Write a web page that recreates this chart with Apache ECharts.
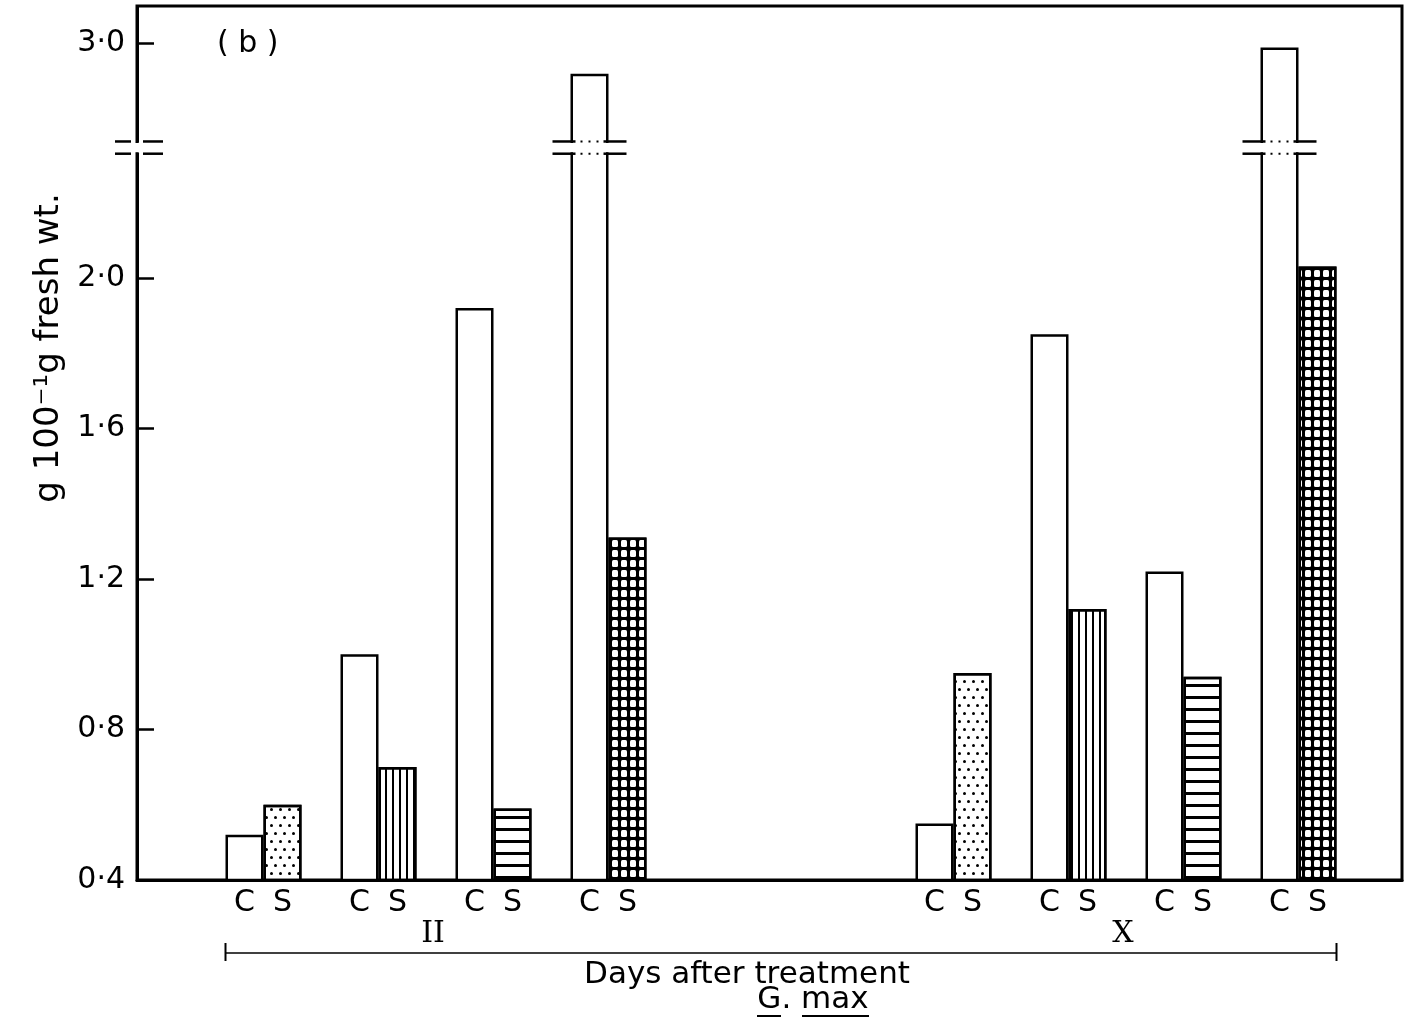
<!DOCTYPE html>
<html>
<head>
<meta charset="utf-8">
<script src="https://cdn.jsdelivr.net/npm/echarts@6.0.0/dist/echarts.min.js"></script>
<style>
  html, body { margin: 0; padding: 0; background: #fff; }
  #chart { width: 1406px; height: 1023px; }
</style>
</head>
<body>
<div id="chart"></div>
<script>
// days after treatment (one group of four C/S pairs each)
const days = ['II', 'X'];
// slot of every C/S pair on the x axis
const slots = [1, 2, 3, 4, 7, 8, 9, 10];
// g 100^-1 g fresh wt.
const control = [0.52, 1.00, 1.92, 2.92, 0.55, 1.85, 1.22, 2.99];
const salt = [0.60, 0.70, 0.59, 1.31, 0.95, 1.12, 0.94, 2.03];
const yTicks = [0.4, 0.8, 1.2, 1.6, 2.0, 3.0];
const yBreak = [2.33, 2.74];

const FONT = 'DejaVu Sans';
const BAR_W = 38;
const X_MIN = -0.1, X_MAX = 10.9;

// hatch used for the S bar of each pair, by position inside the group
const hatch = [
  { symbol: 'circle', symbolSize: 1, color: '#000', dashArrayX: [[2.8, 5.2], [0, 4, 2.8, 1.2]], dashArrayY: [2.8, 4.2] },
  { symbol: 'rect', symbolSize: 1, color: '#000', dashArrayX: [2, 5], dashArrayY: [10, 0] },
  { symbol: 'rect', symbolSize: 1, color: '#000', dashArrayX: [10, 0], dashArrayY: [3, 9] },
  { symbol: 'roundRect', symbolSize: 1, color: '#fff', dashArrayX: [6, 3], dashArrayY: [7, 3] }
];

const chart = echarts.init(document.getElementById('chart'));

// break marks: one on the axis (side 0), one on every bar that crosses the break
const breakItems = [[X_MIN, 0]];
slots.forEach((s, i) => {
  if (control[i] > yBreak[0]) breakItems.push([s, -1]);
  if (salt[i] > yBreak[0]) breakItems.push([s, 1]);
});

function renderBreak(params, api) {
  const x = api.value(0), side = api.value(1);
  const lo = api.coord([x, yBreak[0]]);
  const hi = api.coord([x, yBreak[1]]);
  const solid = { stroke: '#000', lineWidth: 2.5 };
  let l = lo[0], r = lo[0];
  if (side < 0) l = lo[0] - BAR_W;
  if (side > 0) r = lo[0] + BAR_W;
  const kids = [{
    type: 'rect',
    shape: { x: l - 4, y: hi[1] + 1.5, width: r - l + 8, height: lo[1] - hi[1] - 3 },
    style: { fill: '#fff' }
  }];
  [hi[1], lo[1]].forEach(y => {
    if (side === 0) {
      kids.push({ type: 'line', shape: { x1: l - 22, y1: y, x2: l - 6, y2: y }, style: solid });
      kids.push({ type: 'line', shape: { x1: l + 6, y1: y, x2: l + 26, y2: y }, style: solid });
    } else {
      kids.push({ type: 'line', shape: { x1: l - 18, y1: y, x2: l + 5, y2: y }, style: solid });
      kids.push({ type: 'line', shape: { x1: r - 5, y1: y, x2: r + 18, y2: y }, style: solid });
      kids.push({ type: 'line', shape: { x1: l + 10, y1: y, x2: r - 10, y2: y },
        style: { stroke: '#000', lineWidth: 2, lineDash: [2, 6] } });
    }
  });
  return { type: 'group', children: kids };
}

const barLabel = (txt) => ({
  show: true, position: 'bottom', distance: 7, formatter: txt,
  fontSize: 30, color: '#000', fontFamily: FONT
});

const option = {
  animation: false,
  backgroundColor: '#fff',
  title: {
    text: '( b )', left: 212, top: 24,
    textStyle: { fontSize: 30, fontWeight: 'normal', color: '#000', fontFamily: FONT }
  },
  grid: {
    left: 137, right: 4, top: 6, bottom: 143,
    show: true, borderColor: '#000', borderWidth: 3, backgroundColor: 'transparent'
  },
  xAxis: {
    type: 'value', min: X_MIN, max: X_MAX,
    axisLine: { show: true, onZero: false, lineStyle: { color: '#000', width: 3 } },
    axisTick: { show: false },
    axisLabel: { show: false },
    splitLine: { show: false }
  },
  yAxis: {
    type: 'value', min: 0.4, max: 3.1,
    breaks: [{ start: yBreak[0], end: yBreak[1], gap: '1.4%' }],
    breakArea: { show: false, expandOnClick: false },
    axisLine: { show: true, onZero: false, lineStyle: { color: '#000', width: 3 } },
    axisTick: { show: true, inside: true, length: 17, customValues: yTicks,
      lineStyle: { color: '#000', width: 2.5 } },
    axisLabel: { customValues: yTicks, margin: 12, fontSize: 30, color: '#000', fontFamily: FONT,
      formatter: v => v.toFixed(1).replace('.', '·') },
    splitLine: { show: false },
    name: 'g 100⁻¹g fresh wt.',
    nameLocation: 'middle', nameRotate: 90, nameGap: 66,
    nameTextStyle: { fontSize: 34, color: '#000', fontFamily: FONT, padding: [0, 0, 0, 190] }
  },
  series: [
    {
      name: 'C', type: 'bar', barWidth: BAR_W, barGap: '0%',
      data: slots.map((s, i) => [s, control[i]]),
      itemStyle: { color: '#fff', borderColor: '#000', borderWidth: 2.5 },
      label: barLabel('C')
    },
    {
      name: 'S', type: 'bar', barWidth: BAR_W, barGap: '0%',
      data: slots.map((s, i) => ({
        value: [s, salt[i]],
        itemStyle: { color: i % 4 === 3 ? '#000' : '#fff', decal: hatch[i % 4] }
      })),
      itemStyle: { borderColor: '#000', borderWidth: 2.5 },
      label: barLabel('S')
    },
    {
      type: 'custom', z: 5, silent: true, clip: false,
      data: breakItems,
      renderItem: renderBreak
    }
  ]
};
chart.setOption(option);

// group brackets and captions under the axis, placed from the x scale
const px = v => chart.convertToPixel({ xAxisIndex: 0 }, v);
const left = px(slots[0]) - BAR_W;
const right = px(slots[slots.length - 1]) + BAR_W;
const lineY = 953;
const graphic = [
  { type: 'line', shape: { x1: left, y1: lineY, x2: right, y2: lineY }, style: { stroke: '#000', lineWidth: 1.5 } },
  { type: 'line', shape: { x1: left, y1: lineY - 10, x2: left, y2: lineY + 8 }, style: { stroke: '#000', lineWidth: 2 } },
  { type: 'line', shape: { x1: right, y1: lineY - 10, x2: right, y2: lineY + 8 }, style: { stroke: '#000', lineWidth: 2 } },
  { type: 'text', x: 747, y: 975, style: { text: 'Days after treatment', fontSize: 31, fontFamily: FONT,
      fill: '#000', align: 'center', verticalAlign: 'middle' } },
  { type: 'text', x: 813, y: 1000, style: { text: 'G. max', fontSize: 31, fontFamily: FONT,
      fill: '#000', align: 'center', verticalAlign: 'middle' } },
  { type: 'line', shape: { x1: 757, y1: 1016, x2: 781, y2: 1016 }, style: { stroke: '#000', lineWidth: 2 } },
  { type: 'line', shape: { x1: 802, y1: 1016, x2: 869, y2: 1016 }, style: { stroke: '#000', lineWidth: 2 } }
];
days.forEach((d, g) => {
  const cx = (px(slots[g * 4]) - BAR_W + px(slots[g * 4 + 3]) + BAR_W) / 2;
  graphic.push({ type: 'text', x: cx - 3, y: 934, style: { text: d, fontSize: 30, fontFamily: 'DejaVu Serif',
    fill: '#000', align: 'center', verticalAlign: 'middle' } });
});
chart.setOption({ graphic });
</script>
</body>
</html>
